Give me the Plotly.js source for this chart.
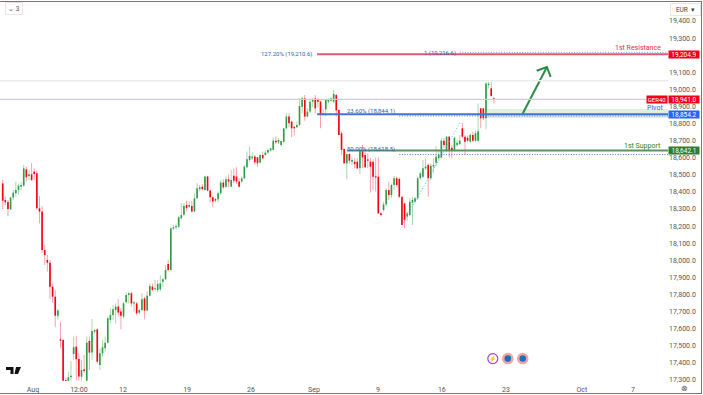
<!DOCTYPE html>
<html><head><meta charset="utf-8">
<script src="https://cdn.plot.ly/plotly-3.0.1.min.js"></script>
<style>html,body{margin:0;padding:0;background:#fff;overflow:hidden}#c{position:absolute;left:0;top:0;width:703px;height:395px}
#f{position:absolute;left:-1px;top:1px;width:701px;height:391px;border:1px solid #4a78e6;pointer-events:none}</style>
</head><body><div id="c"></div><div id="f"></div>
<script>
const open_=[18450,18353,18341,18298,18367,18392,18412,18431,18437,18532,18493,18503,18519,18509,18304,18285,18060,18002,17986,17846,17787,17676,17538,17534,17296,17296,17316,17452,17495,17423,17320,17362,17296,17528,17460,17583,17596,17388,17456,17485,17518,17651,17680,17709,17729,17700,17671,17754,17797,17807,17748,17748,17694,17709,17778,17706,17793,17846,17830,17826,17830,17875,17889,17979,17944,18185,18193,18197,18246,
18266,18324,18314,18318,18285,18363,18416,18431,18412,18490,18408,18369,18357,18357,18392,18455,18431,18474,18431,18494,18490,18461,18461,18480,18544,18587,18597,18607,18603,18572,18616,18616,18630,18642,18646,18700,18690,18675,18694,18772,18841,18811,18782,18778,18792,18899,18948,18841,18870,18928,18948,18942,18928,18850,18883,18928,18934,18928,18967,18880,18743,18651,
18567,18622,18577,18577,18577,18538,18645,18616,18587,18577,18577,18489,18489,18275,18294,18327,18411,18382,18441,18480,18476,18372,18333,18256,18265,18337,18343,18363,18480,18489,18538,18558,18480,18548,18571,18597,18602,18700,18645,18723,18659,18640,18675,18680,18772,18723,18717,18694,18733,18700,18700,18889,18889,18831,19025,19006,18947];
const high=[18470,18372,18353,18372,18412,18460,18450,18460,18558,18548,18528,18571,18538,18525,18376,18318,18090,18031,18002,17865,17826,17713,17641,17538,17310,17349,17411,17554,17558,17456,17417,17446,17554,17554,17657,17600,17602,17485,17534,17554,17670,17719,17739,17748,17772,17719,17758,17811,17817,17817,17762,17758,17719,17807,17787,17817,17865,17865,17885,17885,17914,17895,17973,18002,18193,18207,18216,18259,18333,
18334,18349,18344,18349,18392,18451,18441,18447,18494,18494,18416,18373,18365,18402,18470,18474,18490,18500,18529,18539,18544,18480,18490,18558,18636,18669,18630,18616,18603,18622,18636,18642,18655,18655,18720,18724,18714,18700,18776,18860,18860,18817,18782,18811,18948,18958,18967,18889,18938,18948,18967,18948,18934,18883,18942,18948,18952,18997,18973,18883,18753,18655,
18622,18626,18602,18597,18597,18645,18674,18655,18626,18597,18591,18602,18602,18280,18343,18421,18460,18450,18493,18489,18485,18372,18333,18285,18363,18372,18372,18489,18519,18587,18597,18567,18567,18597,18669,18645,18714,18714,18727,18727,18674,18723,18704,18733,18805,18733,18730,18743,18752,18758,18918,18889,18889,19045,19045,19045,18957];
const low=[18300,18324,18259,18294,18353,18372,18382,18412,18431,18460,18470,18466,18470,18294,18216,18041,17973,17934,17772,17752,17608,17651,17485,17296,17290,17296,17296,17417,17296,17296,17296,17339,17296,17358,17417,17570,17397,17358,17437,17466,17514,17632,17651,17632,17671,17596,17661,17748,17748,17729,17700,17680,17686,17700,17655,17700,17788,17817,17823,17811,17817,17846,17885,17934,17940,18177,18181,18187,18240,
18256,18285,18305,18279,18285,18357,18402,18408,18408,18402,18338,18310,18340,18338,18383,18416,18422,18427,18427,18451,18447,18427,18451,18474,18539,18577,18587,18564,18548,18568,18591,18611,18622,18636,18642,18681,18681,18665,18685,18766,18778,18720,18728,18772,18786,18860,18817,18837,18860,18895,18860,18895,18772,18841,18841,18919,18928,18922,18841,18733,18616,18564,
18474,18567,18558,18538,18534,18505,18538,18538,18538,18396,18411,18402,18271,18256,18285,18314,18353,18363,18411,18431,18363,18207,18187,18230,18256,18207,18333,18353,18470,18480,18528,18372,18470,18509,18548,18591,18597,18655,18635,18602,18597,18636,18665,18675,18714,18616,18690,18688,18694,18694,18694,18772,18821,18766,19005,18957,18918];
const close_=[18349,18339,18300,18367,18396,18412,18437,18441,18538,18486,18503,18470,18505,18304,18285,18060,18031,17986,17846,17787,17676,17706,17530,17296,17292,17316,17324,17491,17421,17320,17358,17353,17518,17460,17587,17592,17407,17456,17491,17518,17661,17680,17713,17729,17694,17676,17748,17797,17807,17748,17752,17690,17709,17772,17706,17793,17850,17827,17836,17862,17865,17889,17944,17944,18187,18193,18201,18252,18265,
18318,18305,18324,18285,18363,18421,18427,18416,18490,18408,18369,18344,18350,18392,18455,18427,18474,18460,18470,18466,18461,18431,18480,18548,18591,18611,18607,18574,18568,18616,18597,18630,18646,18655,18700,18690,18704,18698,18772,18841,18802,18772,18772,18792,18903,18948,18841,18870,18928,18942,18889,18928,18850,18860,18938,18938,18948,18973,18876,18733,18646,18568,
18622,18583,18587,18563,18538,18645,18602,18544,18583,18548,18489,18485,18275,18265,18327,18411,18382,18441,18480,18441,18372,18207,18236,18275,18343,18353,18363,18480,18509,18538,18548,18480,18553,18558,18606,18616,18700,18674,18723,18645,18640,18717,18688,18700,18723,18694,18700,18733,18700,18743,18755,18831,18831,19035,19033,18961,18941];

const tickIdx=[11.5,29,45.8,70.2,94.5,118.5,142.9,167.2,191.6,220.5,240];
const tickText=['Aug','12:00','12','19','26','Sep','9','16','23','Oct','7'];
const priceTicks=[19400,19300,19100,19000,18900,18800,18700,18600,18500,18400,18300,18200,18100,18000,17900,17800,17700,17600,17500,17400,17300];

const resistance=19204.9, last=18941, pivot=18854.2, support=18642.1, greyLevel=19050;
const fibTop=19216.6, fib236=18844.1, fib50=18618.5;
const bandLow=18833, bandHigh=18885;
const arrowIdx=[198,207.2,null,203.3,207.2,208.6], arrowPrice=[18859,19131,null,19109,19131,19073];
const dashIdx=[152.4,174.1], dashPrice=[18219,18804];
const eventIdx=[186.6,192.3,198], eventPrice=[17425,17425,17425];

const idx=open_.map((_,i)=>i);
const RED='#f5000f',GREEN='#2f9a4a',LRED='#f7a3ad',LGREEN='#a9d8ae',BLUE='#2962ff',DGREEN='#2e7d32',DOT='1px,1.6px',FIB='#2f62b8';
const x0=-1.03,x1=253.3,y0=17294,y1=19522.8;
const up=idx.filter(i=>close_[i]>=open_[i]),dn=idx.filter(i=>close_[i]<open_[i]);
const wick=(set,c)=>({type:'bar',x:set,base:set.map(i=>low[i]),y:set.map(i=>high[i]-low[i]),width:0.38,marker:{color:c,line:{width:0}},hoverinfo:'skip'});
const body=(set,c)=>({type:'bar',x:set,base:set.map(i=>Math.min(open_[i],close_[i])),
  y:set.map(i=>Math.max(Math.abs(close_[i]-open_[i]),7)),width:0.62,marker:{color:c,line:{width:0}},hoverinfo:'skip'});
const traces=[
 wick(up,LGREEN),wick(dn,LRED),body(up,GREEN),body(dn,RED),
 {type:'scatter',mode:'lines',x:dashIdx,y:dashPrice,line:{color:'#7fa6e8',width:1,dash:'1px,2px'},hoverinfo:'skip'},
 {type:'scatter',mode:'lines',x:arrowIdx,y:arrowPrice,line:{color:'#2e8b47',width:2},hoverinfo:'skip'},
 {type:'scatter',mode:'markers',x:[eventIdx[0]],y:[eventPrice[0]],marker:{size:10,color:'#fff',line:{color:'#a83fc4',width:1.2}},hoverinfo:'skip'},
 {type:'scatter',mode:'markers',x:eventIdx.slice(1),y:eventPrice.slice(1),marker:{size:9,color:'#1d6fb8',line:{color:'#f4a3a3',width:2.5}},hoverinfo:'skip'}
];
const hl=(a,b,y,c,w,d)=>({type:'line',xref:'x',yref:'y',x0:a,x1:b,y0:y,y1:y,line:{color:c,width:w,dash:d||'solid'},layer:'above'});
const shapes=[
 {type:'rect',xref:'x',yref:'y',x0:184.3,x1:x1,y0:bandLow,y1:bandHigh,fillcolor:'#dff0df',line:{width:0},layer:'below'},
 hl(x0,x1,greyLevel,'#ececec',1.5),
 hl(x0,x1,last,'#cfc9f2',1.2),
 hl(119.7,x1,resistance,'#e25a70',2),
 hl(174,x1,fibTop,'#6f95dc',1,DOT),
 hl(119.7,x1,pivot,'#4472d8',2),
 hl(151,x1,fib236,'#4a78d0',1,DOT),
 hl(131,x1,support,'#5c945c',2),
 hl(151,x1,fib50,'#4a78d0',1,DOT),
 {type:'path',xref:'paper',yref:'paper',path:'M0.00898,0.03675 L0.0202,0.03675 L0.0202,0.01837 L0.0157,0.01837 L0.0157,0.02887 L0.00898,0.02887 Z M0.02395,0.03675 L0.03144,0.03675 L0.02695,0.01837 L0.0217,0.01837 Z',fillcolor:'#111',line:{width:0},layer:'above'}
];
function note(text,x,y,color,size,anchor){return {text,x,y,xref:'x',yref:'y',showarrow:false,xanchor:anchor||'left',yanchor:'middle',font:{color,size,family:'Roboto'}}}
function box(text,y,bg){return {text,x:1,y,xref:'paper',yref:'y',xanchor:'left',yanchor:'middle',showarrow:false,width:30,height:7,bgcolor:bg,borderpad:0,font:{color:'#fff',size:6.5,family:'Roboto'}}}
const annotations=[
 note('127.20% (19,210.6)',97.4,19205,FIB,6),
 note('1 (19,216.6)',159.5,19215,FIB,6),
 note('23.60% (18,844.1)',130.3,18875,FIB,6),
 note('50.00% (18,618.5)',130.3,18651,FIB,6),
 note('1st Resistance',251.5,19242,'#e0303f',7,'right'),
 note('Pivot',252.2,18891,BLUE,7,'right'),
 note('1st Support',251.5,18671,DGREEN,7,'right'),
 box('19,204.9',resistance,'#f0001a'),
 box('18,941.0',last,'#f0001a'),
 box('18,854.2',pivot,BLUE),
 box('18,642.1',support,DGREEN),
 {text:'GER40',x:1,y:last,xref:'paper',yref:'y',xanchor:'right',yanchor:'middle',showarrow:false,width:20,height:7,bgcolor:'#f0001a',borderpad:0,font:{color:'#fff',size:6,family:'Roboto'}},
 {text:'EUR  ▾',x:1,y:19470,xref:'paper',yref:'y',xanchor:'left',yanchor:'middle',xshift:2,showarrow:false,width:27,height:9,bgcolor:'#fff',bordercolor:'#e6e6e6',borderwidth:1,font:{color:'#444',size:6.5,family:'Roboto'}},
 {text:'⌄ 3',x:0.007,y:19472,xref:'paper',yref:'y',xanchor:'left',yanchor:'middle',showarrow:false,width:14,height:9,bgcolor:'#fff',bordercolor:'#e6e6e6',borderwidth:1,font:{color:'#555',size:6.5,family:'Roboto'}},
 {text:'⚡',x:eventIdx[0],y:eventPrice[0],xref:'x',yref:'y',showarrow:false,font:{color:'#a83fc4',size:6}},
 {text:'⊗',x:1,y:-0.0185,xref:'paper',yref:'paper',xanchor:'left',yanchor:'middle',xshift:12,showarrow:false,borderpad:0,font:{color:'#555',size:8}}
];
const layout={width:703,height:395,autosize:false,margin:{l:0,r:35,t:0,b:14,pad:0},paper_bgcolor:'#fff',plot_bgcolor:'#fff',showlegend:false,barmode:'overlay',
 font:{family:'Roboto',size:7,color:'#555'},
 xaxis:{type:'linear',range:[x0,x1],tickmode:'array',tickvals:tickIdx,ticktext:tickText,showgrid:false,zeroline:false,showline:false,ticks:'outside',ticklen:2,tickcolor:'rgba(0,0,0,0)',tickfont:{size:7,color:'#555'},automargin:false},
 yaxis:{side:'right',range:[y0,y1],tickmode:'array',tickvals:priceTicks,ticktext:priceTicks.map(v=>v.toLocaleString('en-US',{minimumFractionDigits:1})),showgrid:false,zeroline:false,showline:false,ticks:'',ticklen:0,tickfont:{size:7,color:'#555'},automargin:false},
 shapes,annotations};
Plotly.newPlot('c',traces,layout,{displayModeBar:false,staticPlot:true});
</script></body></html>
